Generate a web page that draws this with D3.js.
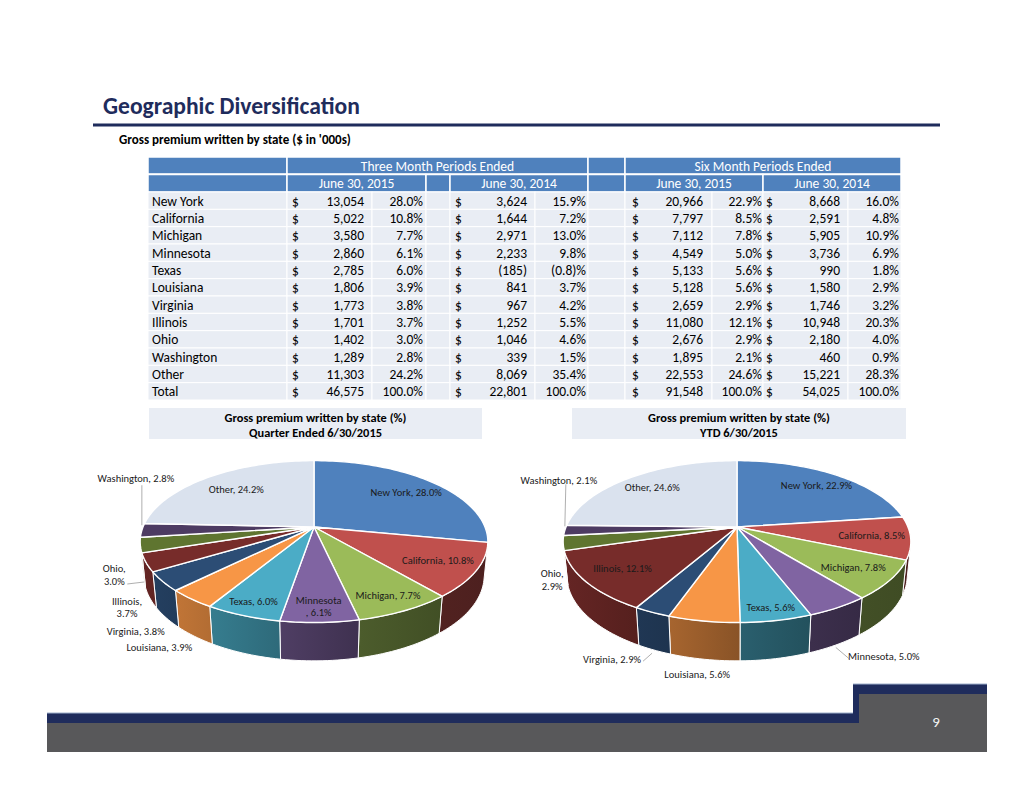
<!DOCTYPE html>
<html><head><meta charset="utf-8">
<script src="https://cdnjs.cloudflare.com/ajax/libs/d3/7.8.5/d3.min.js"></script>
<style>
html,body{margin:0;padding:0;background:#fff;}
svg{display:block;font-family:Carlito, Calibri, Lato, "Open Sans", sans-serif;}
</style></head><body>
<svg id="c" width="1034" height="799"></svg>
<script>
// ---------------- DATA ----------------
const titleText = "Geographic Diversification";
const subtitleText = "Gross premium written by state ($ in '000s)";
const groupHeaders = ["Three Month Periods Ended", "Six Month Periods Ended"];
const dateHeaders = ["June 30, 2015", "June 30, 2014", "June 30, 2015", "June 30, 2014"];
const states = ["New York","California","Michigan","Minnesota","Texas","Louisiana","Virginia","Illinois","Ohio","Washington","Other"];
const q2015    = [13054, 5022, 3580, 2860, 2785, 1806, 1773, 1701, 1402, 1289, 11303];
const q2015Pct = [28.0, 10.8, 7.7, 6.1, 6.0, 3.9, 3.8, 3.7, 3.0, 2.8, 24.2];
const q2014    = [3624, 1644, 2971, 2233, -185, 841, 967, 1252, 1046, 339, 8069];
const q2014Pct = [15.9, 7.2, 13.0, 9.8, -0.8, 3.7, 4.2, 5.5, 4.6, 1.5, 35.4];
const y2015    = [20966, 7797, 7112, 4549, 5133, 5128, 2659, 11080, 2676, 1895, 22553];
const y2015Pct = [22.9, 8.5, 7.8, 5.0, 5.6, 5.6, 2.9, 12.1, 2.9, 2.1, 24.6];
const y2014    = [8668, 2591, 5905, 3736, 990, 1580, 1746, 10948, 2180, 460, 15221];
const y2014Pct = [16.0, 4.8, 10.9, 6.9, 1.8, 2.9, 3.2, 20.3, 4.0, 0.9, 28.3];
const totals   = [46575, 22801, 91548, 54025];
const totalPct = [100.0, 100.0, 100.0, 100.0];
const pieCaptions = [["Gross premium written by state (%)","Quarter Ended 6/30/2015"],
                     ["Gross premium written by state (%)","YTD 6/30/2015"]];
const pageNumber = "9";

// ---------------- STYLE ----------------
const NAVY = "#1F2C5C", HEAD = "#4F81BD", CELL = "#E9EDF4", GRAY = "#58585A";
const sliceColors = ["#4F81BD","#C0504D","#9BBB59","#8064A2","#4BACC6","#F79646",
                     "#2C4D75","#772C2A","#5F7530","#4D3B62","#DAE2EE"];

const svg = d3.select("#c");
const defs = svg.append("defs");

// Title
svg.append("text").attr("x",103).attr("y",114).attr("font-size",23.6)
  .attr("font-weight","bold").attr("fill",NAVY).text(titleText);
svg.append("rect").attr("x",93).attr("y",123.5).attr("width",847).attr("height",3).attr("fill",NAVY);
svg.append("text").attr("x",119).attr("y",143.5).attr("font-size",13)
  .attr("font-weight","bold").attr("fill","#000").text(subtitleText);

// ---------------- TABLE ----------------
const edges = [148, 287, 372, 426, 450, 535, 588, 625, 712, 763, 848, 901];
const rowNames = states.concat(["Total"]);
const yRow = d3.scaleBand().domain(rowNames).range([192, 400]);
const tbl = svg.append("g").attr("font-size",13.5);

function hcell(y, h, c0, c1, txt){
  tbl.append("rect").attr("x",edges[c0]).attr("y",y).attr("width",edges[c1]-edges[c0]).attr("height",h)
    .attr("fill",HEAD).attr("stroke","#fff").attr("stroke-width",1.5);
  if(txt) tbl.append("text").attr("x",(edges[c0]+edges[c1])/2).attr("y",y+h/2+0.5)
    .attr("text-anchor","middle").attr("dominant-baseline","central").attr("fill","#fff").text(txt);
}
hcell(157,17,0,1); hcell(157,17,1,6,groupHeaders[0]); hcell(157,17,6,7); hcell(157,17,7,11,groupHeaders[1]);
hcell(174.5,17.5,0,1); hcell(174.5,17.5,1,3,dateHeaders[0]); hcell(174.5,17.5,3,4);
hcell(174.5,17.5,4,6,dateHeaders[1]); hcell(174.5,17.5,6,7);
hcell(174.5,17.5,7,9,dateHeaders[2]); hcell(174.5,17.5,9,11,dateHeaders[3]);

const fNum = d3.format(",");
const fmtVal = v => v < 0 ? "(" + fNum(-v) + ")" : fNum(v);
const fmtPct = p => p < 0 ? "(" + (-p).toFixed(1) + ")%" : p.toFixed(1) + "%";

const rows = rowNames.map((n,i) => i < states.length
  ? {name:n, v:[q2015[i], q2014[i], y2015[i], y2014[i]], p:[q2015Pct[i], q2014Pct[i], y2015Pct[i], y2014Pct[i]]}
  : {name:n, v:totals, p:totalPct});

// column text anchors: [dollarX, valueRightX, pctRightX]
const blocks = [[292,364,423],[455,527,586],[632,703,762],[766,840,899]];
rows.forEach(r => {
  const y = yRow(r.name), h = yRow.bandwidth(), cy = y + h/2 + 0.5;
  for(let c=0;c<11;c++){
    tbl.append("rect").attr("x",edges[c]).attr("y",y).attr("width",edges[c+1]-edges[c]).attr("height",h)
      .attr("fill",CELL).attr("stroke","#fff").attr("stroke-width",1);
  }
  const t = (x, a, s) => tbl.append("text").attr("x",x).attr("y",cy).attr("text-anchor",a)
      .attr("dominant-baseline","central").attr("fill","#000").text(s);
  t(edges[0]+4,"start",r.name);
  blocks.forEach((b,k) => {
    t(b[0],"start","$");
    t(b[1],"end",fmtVal(r.v[k]));
    t(b[2],"end",fmtPct(r.p[k]));
  });
});

// captions
[[149,482],[572,906]].forEach((b,i) => {
  svg.append("rect").attr("x",b[0]).attr("y",408).attr("width",b[1]-b[0]).attr("height",31).attr("fill",CELL);
  pieCaptions[i].forEach((s,j) => svg.append("text").attr("x",(b[0]+b[1])/2).attr("y",417+j*15.5)
    .attr("text-anchor","middle").attr("dominant-baseline","central").attr("font-size",12.4)
    .attr("font-weight","bold").attr("fill","#000").text(s));
});

// ---------------- 3D PIES ----------------
const TS = 0.458, TC = 0.889, DIST = 4.93, RAD = 171, THICK = 0.225;
const visA0 = Math.acos(-1/(DIST*TC)), visA1 = 2*Math.PI - visA0;
const shade = d3.scaleLinear().domain([103,140,170,200,230,257]).range([0.40,0.42,0.50,0.68,0.80,0.86]).clamp(true);
const deg = a => a*180/Math.PI;
function darken(col, f){ const c = d3.rgb(col); return d3.rgb(c.r*f, c.g*f, c.b*f).formatHex(); }

function drawPie(id, cx, cy, values, pcts, layout){
  const P = (a, r, z) => {
    const X = r*Math.sin(a), Y = r*Math.cos(a);
    const depth = -Y*TC + z*TS, up = Y*TS + z*TC, sc = DIST/(DIST - depth);
    return [cx + RAD*X*sc, cy - RAD*up*sc];
  };
  const data = states.map((s,i)=>({name:s, v:values[i], pct:pcts[i], color:sliceColors[i]}));
  const arcs = d3.pie().sort(null).value(d=>d.v)(data);
  const g = svg.append("g");
  const line = d3.line();
  const samp = (a0,a1,r,z) => { const n = Math.max(2, Math.ceil(deg(a1-a0)/1.5)); return d3.range(n+1).map(i=>P(a0+(a1-a0)*i/n, r, z)); };
  // walls
  arcs.forEach((d,i) => {
    const lo = Math.max(d.startAngle, visA0), hi = Math.min(d.endAngle, visA1);
    if(hi <= lo) return;
    const top = samp(lo,hi,1,0), bot = samp(lo,hi,1,-THICK).reverse();
    const gid = id+"w"+i;
    const gr = defs.append("linearGradient").attr("id",gid).attr("gradientUnits","userSpaceOnUse")
      .attr("x1",top[0][0]).attr("x2",top[top.length-1][0]).attr("y1",0).attr("y2",0);
    gr.append("stop").attr("offset",0).attr("stop-color",darken(d.data.color, shade(deg(lo))));
    gr.append("stop").attr("offset",1).attr("stop-color",darken(d.data.color, shade(deg(hi))));
    g.append("path").attr("d", line(top.concat(bot)) + "Z").attr("fill","url(#"+gid+")")
      .attr("stroke","#fff").attr("stroke-width",1).attr("stroke-linejoin","round");
  });
  // tops
  arcs.forEach(d => {
    const pts = [P(0,0,0)].concat(samp(d.startAngle,d.endAngle,1,0));
    g.append("path").attr("d", line(pts)+"Z").attr("fill",d.data.color)
      .attr("stroke","#fff").attr("stroke-width",1.4).attr("stroke-linejoin","round");
  });
  // labels
  arcs.forEach(d => {
    const L = layout[d.data.name] || {};
    const mid = (d.startAngle + d.endAngle)/2;
    const pctS = d.data.pct.toFixed(1) + "%";
    let lines = [d.data.name + ", " + pctS];
    if(L.wrap === "after") lines = [d.data.name + ",", pctS];
    if(L.wrap === "before") lines = [d.data.name, ", " + pctS];
    let x, y;
    if(L.out){
      const rim = P(mid,1,0);
      x = rim[0] + L.out[0]; y = rim[1] + L.out[1];
      if(L.lead){
        g.append("path").attr("d", line(L.lead.map(p=>[rim[0]+p[0], rim[1]+p[1]])))
          .attr("fill","none").attr("stroke","#9a9a9a").attr("stroke-width",0.8);
      }
    } else {
      const p = P(mid, L.r || 0.78, 0); x = p[0]; y = p[1];
    }
    const t = g.append("text").attr("font-size",10.5).attr("fill","#1a1a1a").attr("text-anchor","middle");
    lines.forEach((s,j) => t.append("tspan").attr("x",x).attr("y", y + (j - (lines.length-1)/2)*12.5)
      .attr("dominant-baseline","central").text(s));
  });
}

const layoutQ = {
  "New York": {r:0.76},
  "Michigan": {r:0.84},
  "Minnesota": {r:0.86, wrap:"before"},
  "Texas": {r:0.87},
  "Other": {r:0.72},
  "Washington": {out:[-6,-52], lead:[[0,-5],[0,-45]]},
  "Ohio": {out:[-26,30], wrap:"after", lead:[[-13,39],[4,37]]},
  "Illinois": {out:[-19,45], wrap:"after"},
  "Virginia": {out:[-27,50]},
  "Louisiana": {out:[-32,48.5]}
};
const layoutY = {
  "Texas": {r:0.88},
  "Washington": {out:[-6,-50], lead:[[1,-46],[0,-4]]},
  "Ohio": {out:[-11,37], wrap:"after"},
  "Virginia": {out:[-40,47], lead:[[-9,49],[0,41]]},
  "Louisiana": {out:[-6.5,53]},
  "Minnesota": {out:[45.5,49], lead:[[-2.5,40],[10.5,51]]}
};
drawPie("q", 314, 527, q2015, q2015Pct, layoutQ);
drawPie("y", 737, 527, y2015, y2015Pct, layoutY);

// ---------------- FOOTER ----------------
const ft = svg.append("g");
ft.append("rect").attr("x",47).attr("y",713).attr("width",940).attr("height",39).attr("fill",GRAY);
ft.append("rect").attr("x",853).attr("y",684).attr("width",134).attr("height",40).attr("fill",GRAY);
ft.append("rect").attr("x",47).attr("y",713).attr("width",812).attr("height",10).attr("fill",NAVY);
ft.append("rect").attr("x",853).attr("y",684).attr("width",134).attr("height",10).attr("fill",NAVY);
ft.append("rect").attr("x",853).attr("y",684).attr("width",6).attr("height",39).attr("fill",NAVY);
ft.append("rect").attr("x",47).attr("y",712.5).attr("width",806).attr("height",1).attr("fill","#9FB0CC");
ft.append("rect").attr("x",853).attr("y",683.5).attr("width",134).attr("height",1).attr("fill","#9FB0CC");
ft.append("text").attr("x",936).attr("y",722).attr("text-anchor","middle").attr("dominant-baseline","central")
  .attr("font-size",15).attr("fill","#F2F2F2").text(pageNumber);
</script>
</body></html>
